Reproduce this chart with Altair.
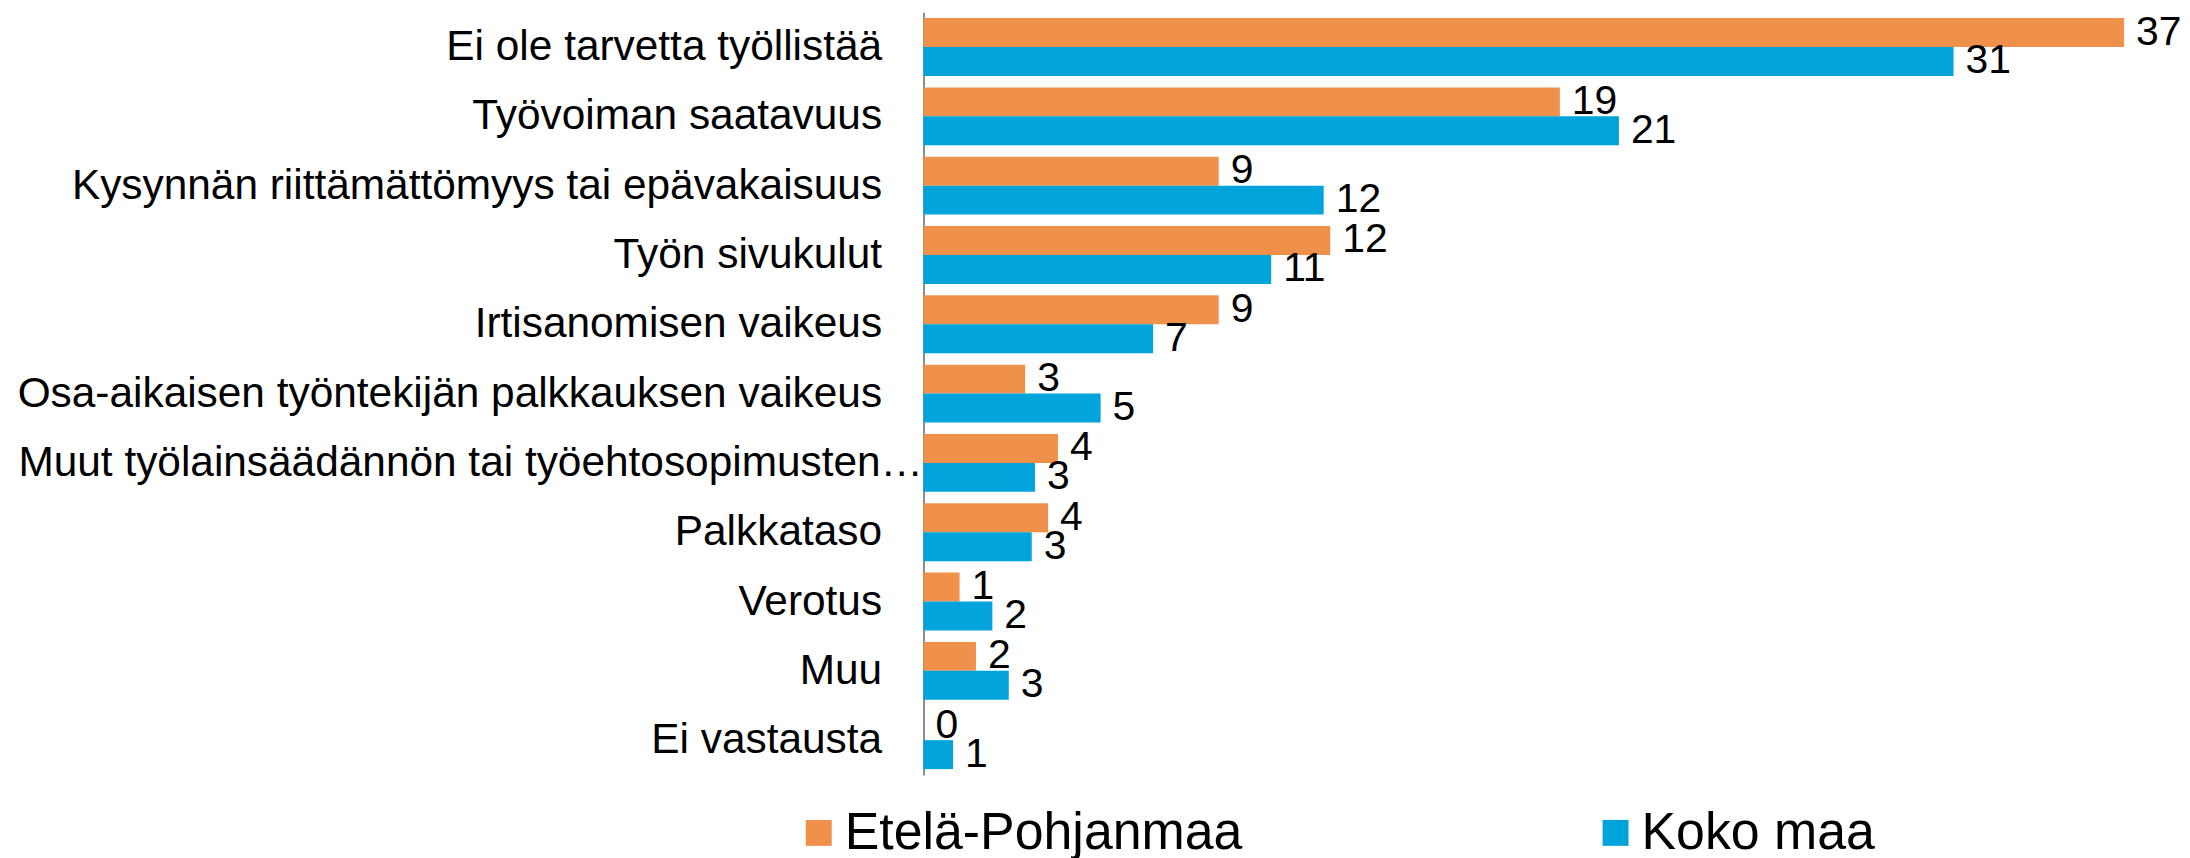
import altair as alt
import pandas as pd

categories = [
    "Ei ole tarvetta työllistää",
    "Työvoiman saatavuus",
    "Kysynnän riittämättömyys tai epävakaisuus",
    "Työn sivukulut",
    "Irtisanomisen vaikeus",
    "Osa-aikaisen työntekijän palkkauksen vaikeus",
    "Muut työlainsäädännön tai työehtosopimusten…",
    "Palkkataso",
    "Verotus",
    "Muu",
    "Ei vastausta",
]
etela_pohjanmaa = [36.6, 19.4, 9.0, 12.4, 9.0, 3.1, 4.1, 3.8, 1.1, 1.6, 0.0]
koko_maa = [31.4, 21.2, 12.2, 10.6, 7.0, 5.4, 3.4, 3.3, 2.1, 2.6, 0.9]
series = ["Etelä-Pohjanmaa", "Koko maa"]
colors = ["#F0914B", "#00A4DA"]

rows = []
for c, a, b in zip(categories, etela_pohjanmaa, koko_maa):
    rows.append({"cat": c, "series": series[0], "value": a})
    rows.append({"cat": c, "series": series[1], "value": b})
df = pd.DataFrame(rows)

FONT = "Liberation Sans"

y_enc = alt.Y(
    "cat:N",
    sort=categories,
    scale=alt.Scale(paddingInner=0.165, paddingOuter=0.086),
    axis=alt.Axis(
        title=None,
        ticks=False,
        domainColor="#8c8c8c",
        domainWidth=2,
        labelFont=FONT,
        labelFontSize=42.5,
        labelColor="#000000",
        labelLimit=1200,
        labelPadding={"condition": {"test": "indexof(datum.label, 'Muut') === 0", "value": 1}, "value": 42},
    ),
)
x_enc = alt.X("value:Q", scale=alt.Scale(domain=[0, 38], nice=False, zero=True), axis=None)
yoff = alt.YOffset("series:N", sort=series, scale=alt.Scale(paddingInner=0, paddingOuter=0))

base = alt.Chart(df)

bars = base.mark_bar().encode(
    y=y_enc,
    x=x_enc,
    yOffset=yoff,
    color=alt.Color(
        "series:N",
        sort=series,
        scale=alt.Scale(domain=series, range=colors),
        legend=alt.Legend(
            title=None,
            orient="none",
            legendX=-131,
            legendY=797,
            direction="horizontal",
            columns=2,
            columnPadding=348,
            symbolType="square",
            symbolSize=676,
            symbolStrokeWidth=0,
            symbolOpacity=1,
            labelFont=FONT,
            labelFontSize=52,
            labelColor="#000000",
            labelOffset=0,
            labelLimit=1000,
        ),
    ),
)

labels = base.mark_text(
    align="left", baseline="middle", dx=12, font=FONT, fontSize=41, color="#000000"
).encode(
    y=alt.Y("cat:N", sort=categories),
    x="value:Q",
    yOffset=alt.YOffset("series:N", sort=series),
    text=alt.Text("value:Q", format=".0f"),
)

chart = (
    alt.layer(bars, labels)
    .properties(width=1250, height=765, padding={"left": 9, "top": 2, "right": 0, "bottom": 0})
    .configure_view(stroke=None)
)

chart.save("out.html", embed_options={"renderer": "svg", "actions": False})
